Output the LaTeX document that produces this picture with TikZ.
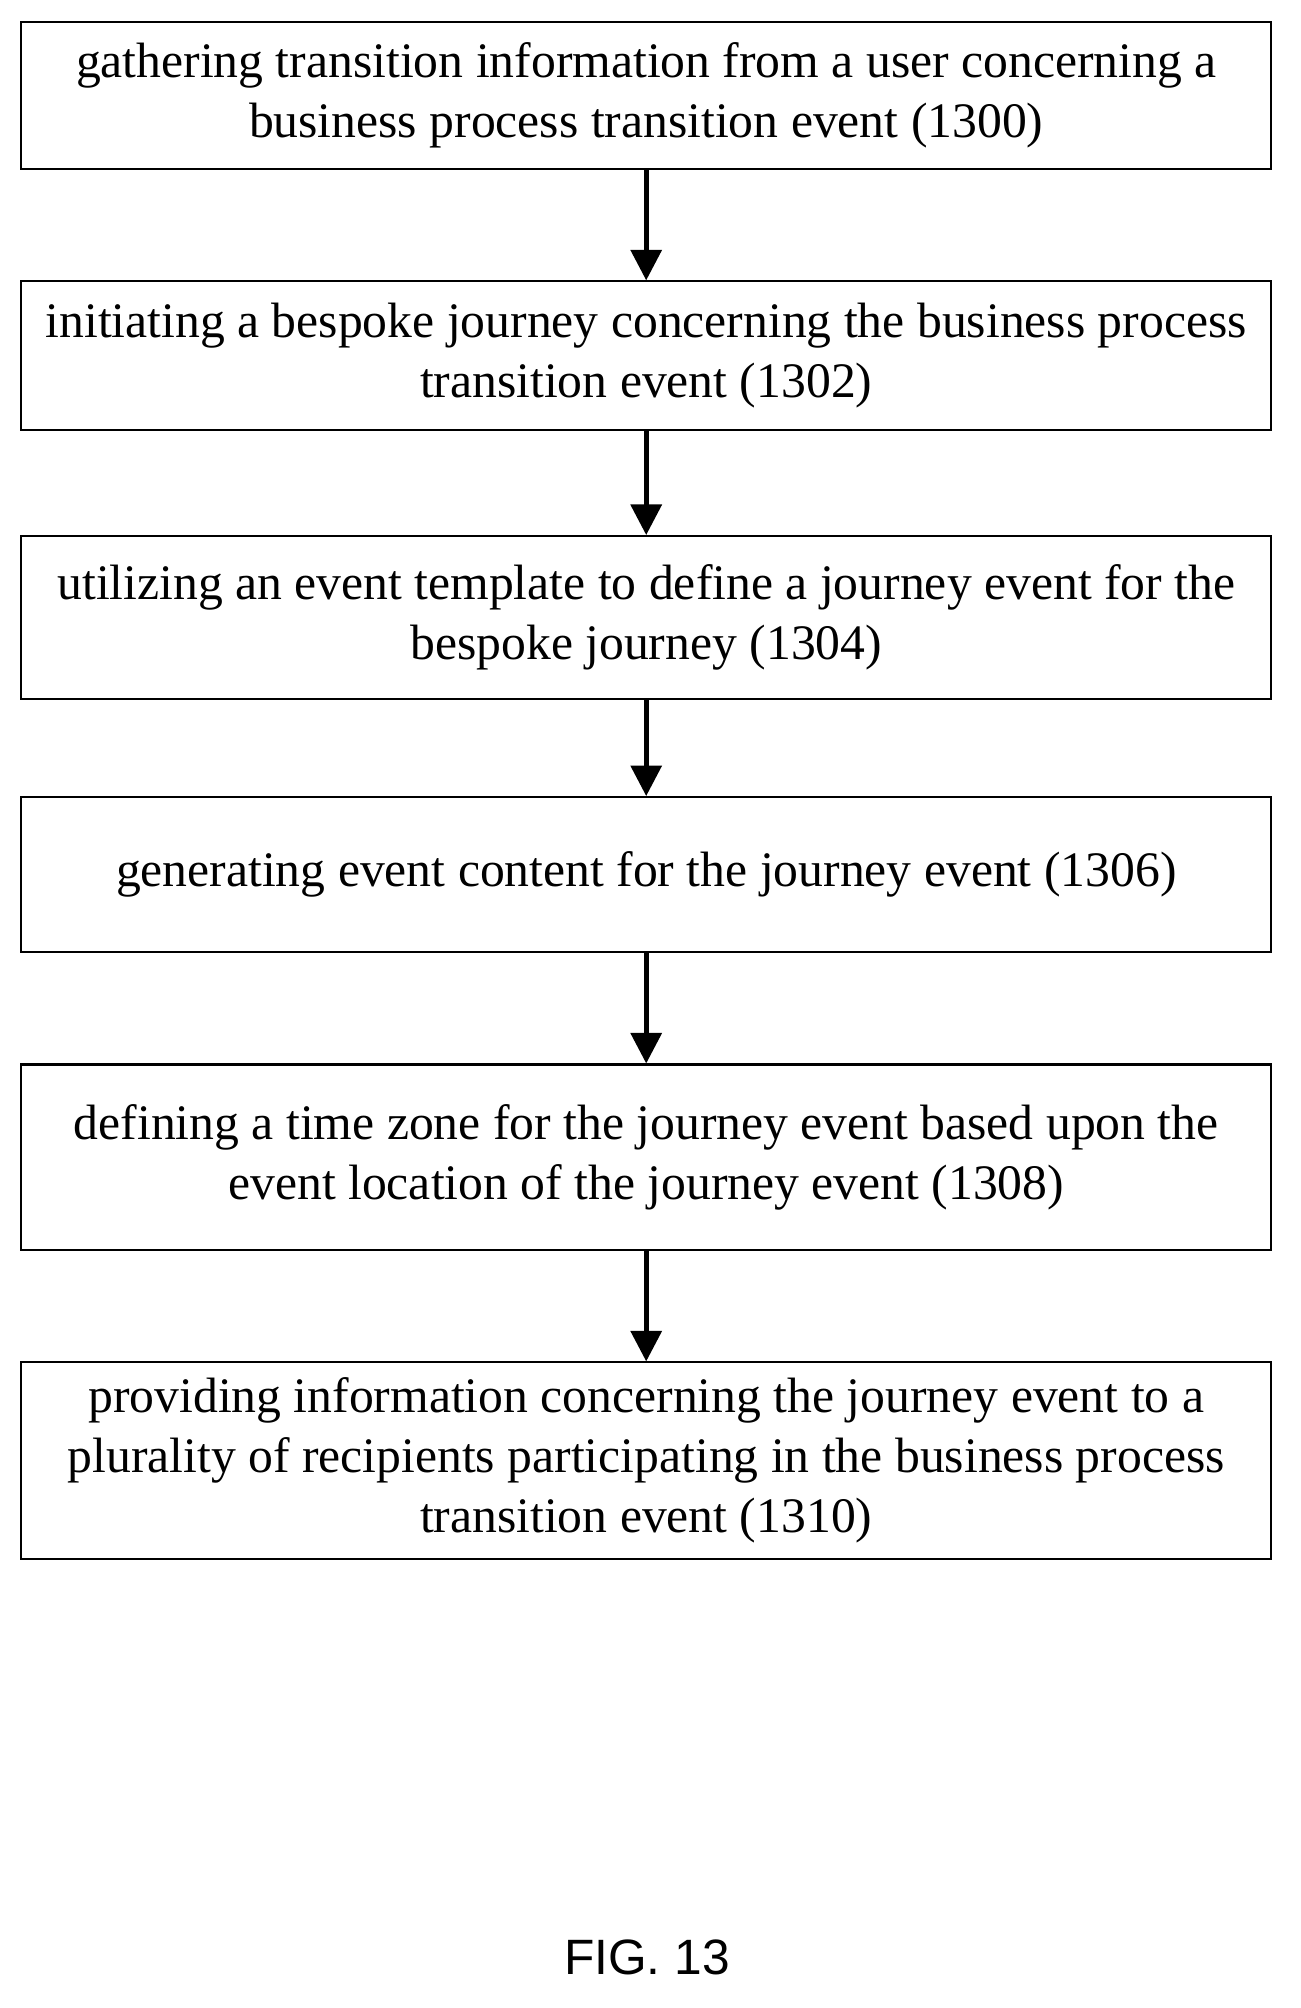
\documentclass[tikz,border=0pt]{standalone}
\usepackage{fontspec}
\setmainfont{Liberation Serif}
\newfontfamily\figfont{Liberation Sans}
\usetikzlibrary{arrows.meta}
\begin{document}
\begin{tikzpicture}[x=0.5pt,y=-0.5pt,
  box/.style={draw,line width=0.8pt,minimum width=491pt,align=center,font=\fontsize{19.5}{23.5}\selectfont,inner sep=0pt},
  arr/.style={line width=1.9pt,-{Triangle[length=12pt,width=12pt]}}]
\useasboundingbox (0,0) rectangle (1021,1577);
\node[box,minimum height=58pt] (b1) at (507.5,75) {gathering transition information from a user concerning a\\business process transition event (1300)};
\node[box,minimum height=58.5pt] (b2) at (507.5,279.5) {initiating a bespoke journey concerning the business process\\transition event (1302)};
\node[box,minimum height=64pt] (b3) at (507.5,485) {utilizing an event template to define a journey event for the\\bespoke journey (1304)};
\node[box,minimum height=61pt] (b4) at (507.5,687) {generating event content for the journey event (1306)};
\node[box,minimum height=73pt] (b5) at (507.5,909) {defining a time zone for the journey event based upon the\\event location of the journey event (1308)};
\node[box,minimum height=77pt] (b6) at (507.5,1147) {providing information concerning the journey event to a\\plurality of recipients participating in the business process\\transition event (1310)};
\node[font=\figfont\fontsize{19.5}{22}\selectfont] (fig) at (508,1537) {FIG. 13};
\draw[arr] (b1) -- (b2);
\draw[arr] (b2) -- (b3);
\draw[arr] (b3) -- (b4);
\draw[arr] (b4) -- (b5);
\draw[arr] (b5) -- (b6);
\end{tikzpicture}
\end{document}
